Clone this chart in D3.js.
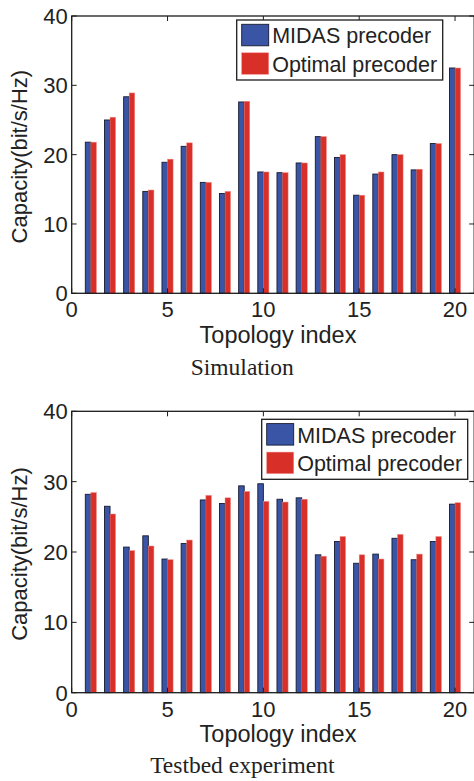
<!DOCTYPE html>
<html><head><meta charset="utf-8">
<script src="https://cdn.jsdelivr.net/npm/d3@7"></script>
<style>body{margin:0;background:#fff}svg{display:block}</style>
</head><body>
<svg id="c" width="474" height="781"></svg>
<script>
const topologies = [1,2,3,4,5,6,7,8,9,10,11,12,13,14,15,16,17,18,19,20];
const simMidas    = [21.8,25.0,28.35,14.7,18.9,21.2,16.0,14.4,27.6,17.5,17.4,18.8,22.6,19.6,14.15,17.2,20.0,17.8,21.6,32.5];
const simOptimal  = [21.8,25.4,28.9,14.9,19.35,21.7,16.0,14.7,27.7,17.5,17.4,18.8,22.6,20.0,14.15,17.5,20.0,17.9,21.6,32.5];
const testMidas   = [28.2,26.5,20.7,22.3,19.0,21.2,27.4,26.9,29.4,29.7,27.5,27.7,19.6,21.5,18.4,19.7,21.95,18.9,21.5,26.8];
const testOptimal = [28.45,25.4,20.2,20.85,18.9,21.7,28.05,27.7,28.6,27.2,27.1,27.5,19.4,22.2,19.6,19.0,22.5,19.7,22.2,27.0];
const xTicks = [0,5,10,15,20];
const yTicks = [0,10,20,30,40];
const seriesNames = ["MIDAS precoder","Optimal precoder"];
const captions = ["Simulation","Testbed experiment"];
const xLabel = "Topology index";
const yLabel = "Capacity(bit/s/Hz)";

const BLUE = "#3a55a5", RED = "#d92f29", AX = "#1c1c1c";
const SANS = "'Liberation Sans', Arial, Helvetica, sans-serif";
const SERIF = "'Liberation Serif', 'Times New Roman', serif";
const svg = d3.select("#c");

const panels = [
  {midas: simMidas, opt: simOptimal, top: 16, bottom: 293.3, caption: captions[0], capY: 375,
   leg: {x: 236.7, y: 20, w: 206, h: 60}},
  {midas: testMidas, opt: testOptimal, top: 411.3, bottom: 692.7, caption: captions[1], capY: 773.3,
   leg: {x: 261.7, y: 419.3, w: 206, h: 60}}
];

const x = d3.scaleLinear().domain([0,21]).range([71.7, 474.2]);
const bw = x(0.29) - x(0);

panels.forEach(p => {
  const g = svg.append("g");
  const y = d3.scaleLinear().domain([0,40]).range([p.bottom, p.top]);

  // bars
  g.selectAll(".bm").data(topologies).join("rect")
    .attr("x", d => x(d) - bw).attr("width", bw)
    .attr("y", (d,i) => y(p.midas[i])).attr("height", (d,i) => y(0) - y(p.midas[i]))
    .attr("fill", BLUE).attr("stroke", "#151b30").attr("stroke-width", 0.9);
  g.selectAll(".bo").data(topologies).join("rect")
    .attr("x", d => x(d)).attr("width", bw)
    .attr("y", (d,i) => y(p.opt[i])).attr("height", (d,i) => y(0) - y(p.opt[i]))
    .attr("fill", RED).attr("stroke", "#f08a86").attr("stroke-width", 0.5);

  // box
  g.append("rect").attr("x", x(0)).attr("y", y(40)).attr("width", x(21)-x(0)).attr("height", y(0)-y(40))
    .attr("fill", "none").attr("stroke", AX).attr("stroke-width", 1.3);

  // ticks inward
  const tl = 5;
  xTicks.forEach(t => {
    g.append("line").attr("x1", x(t)).attr("x2", x(t)).attr("y1", y(0)).attr("y2", y(0)-tl).attr("stroke", AX).attr("stroke-width", 1);
    g.append("line").attr("x1", x(t)).attr("x2", x(t)).attr("y1", y(40)).attr("y2", y(40)+tl).attr("stroke", AX).attr("stroke-width", 1);
    g.append("text").attr("x", x(t)).attr("y", y(0)+24).attr("text-anchor", "middle")
      .attr("font-family", SANS).attr("font-size", 22).attr("fill", "#222").text(t);
  });
  yTicks.forEach(t => {
    g.append("line").attr("x1", x(0)).attr("x2", x(0)+tl).attr("y1", y(t)).attr("y2", y(t)).attr("stroke", AX).attr("stroke-width", 1);
    g.append("line").attr("x1", x(21)).attr("x2", x(21)-tl).attr("y1", y(t)).attr("y2", y(t)).attr("stroke", AX).attr("stroke-width", 1);
    g.append("text").attr("x", x(0)-4).attr("y", y(t)+8).attr("text-anchor", "end")
      .attr("font-family", SANS).attr("font-size", 22).attr("fill", "#222").text(t);
  });

  // axis labels
  g.append("text").attr("x", 278).attr("y", y(0)+49.5).attr("text-anchor", "middle")
    .attr("font-family", SANS).attr("font-size", 23.5).attr("fill", "#222").text(xLabel);
  g.append("text").attr("transform", `translate(27,${(y(0)+y(40))/2 + 2}) rotate(-90)`).attr("text-anchor", "middle")
    .attr("font-family", SANS).attr("font-size", 22).attr("fill", "#222").text(yLabel);

  // caption
  g.append("text").attr("x", 242.3).attr("y", p.capY).attr("text-anchor", "middle")
    .attr("font-family", SERIF).attr("font-size", 23.5).attr("fill", "#222").text(p.caption);

  // legend
  const L = p.leg;
  g.append("rect").attr("x", L.x).attr("y", L.y).attr("width", L.w).attr("height", L.h)
    .attr("fill", "#fff").attr("stroke", AX).attr("stroke-width", 1.3);
  const cols = [BLUE, RED];
  seriesNames.forEach((n, i) => {
    g.append("rect").attr("x", L.x+5).attr("y", L.y+4.3 + i*28.5).attr("width", 27).attr("height", 21.5)
      .attr("fill", cols[i]).attr("stroke", i === 0 ? "#151b30" : "#f08a86").attr("stroke-width", i === 0 ? 0.9 : 0.5);
    g.append("text").attr("x", L.x+35.5).attr("y", L.y+23.3 + i*28.4)
      .attr("font-family", SANS).attr("font-size", 21.5).attr("fill", "#222").text(n);
  });
});
</script>
</body></html>
